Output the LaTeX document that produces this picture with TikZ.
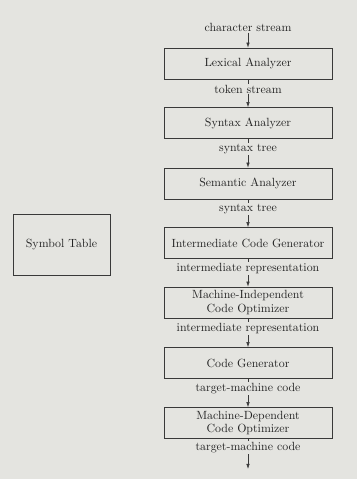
\documentclass[tikz,border=0pt]{standalone}
\usepackage[dvipsnames]{xcolor}
\usetikzlibrary{arrows, arrows.meta}
\usetikzlibrary{positioning}
\definecolor{paper}{RGB}{228,228,224}
\definecolor{ink}{RGB}{35,35,35}

\begin{document}
\begin{tikzpicture}[x=0.885pt,y=-0.885pt,
		font=\fontsize{10.5}{11.8}\selectfont,
		phase/.style={draw=ink!90, line width=0.5pt, text=ink, minimum width=148.7pt, minimum height=27.4pt, inner ysep=1pt, align=center},
		flow/.style={draw=ink!90, line width=0.5pt, -{Latex[length=4.5pt,width=3pt]}},
		lbl/.style={fill=paper, text=ink, inner sep=1pt, pos=0.35}]
				% paper
				\fill[paper] (0,0) rectangle (357,479);
				\useasboundingbox (0,0) rectangle (357,479);
				% draw phases
				\node[phase] (lex) at (248,63.5) {Lexical Analyzer};
				\node[phase] (syn) at (248,123) {Syntax Analyzer};
				\node[phase] (sem) at (248,183.5) {Semantic Analyzer};
				\node[phase] (icg) at (248,243) {Intermediate Code Generator};
				\node[phase] (mio) at (248,302.5) {Machine-Independent\\Code Optimizer};
				\node[phase] (cg) at (248,363) {Code Generator};
				\node[phase] (mdo) at (248,423) {Machine-Dependent\\Code Optimizer};
				% symbol table
				\node[draw=ink!90, line width=0.5pt, text=ink, minimum width=85.8pt, minimum height=54pt] (sym) at (61.5,244.5) {Symbol Table};
				% input and output
				\node[text=ink, inner sep=1pt] (in) at (248,27) {character stream};
				\coordinate (out) at (248,469);
				% add arrows
				\draw[flow] (in) -- (lex);
				\draw[flow] (lex) -- (syn) node[lbl] {token stream};
				\draw[flow] (syn) -- (sem) node[lbl] {syntax tree};
				\draw[flow] (sem) -- (icg) node[lbl] {syntax tree};
				\draw[flow] (icg) -- (mio) node[lbl] {intermediate representation};
				\draw[flow] (mio) -- (cg) node[lbl] {intermediate representation};
				\draw[flow] (cg) -- (mdo) node[lbl] {target-machine code};
				\draw[flow] (mdo) -- (out) node[lbl, pos=0.28] {target-machine code};
			\end{tikzpicture}
\end{document}
